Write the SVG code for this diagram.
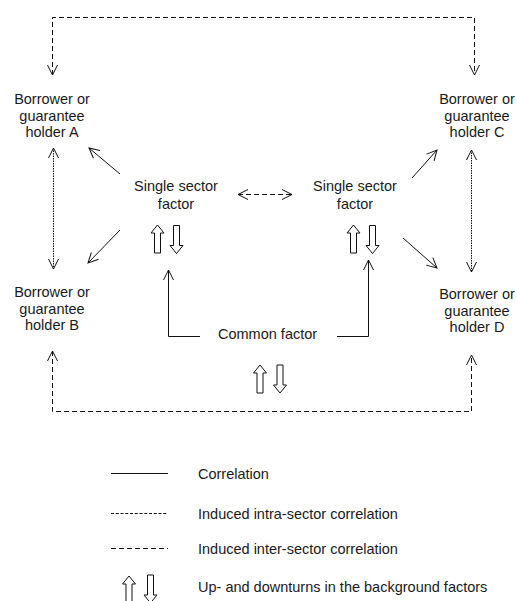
<svg xmlns="http://www.w3.org/2000/svg" width="517" height="601" viewBox="0 0 517 601">
  <style>
    text { font-family: "Liberation Sans", Arial, Helvetica, sans-serif; font-size: 14.5px; fill: #1a1a1a; }
    .mid { text-anchor: middle; }
    .ln { fill: none; stroke: #111; stroke-width: 1; }
    .solid { marker-end: url(#tip); }
    .inter { stroke-dasharray: 5 3; }
    .intra { stroke-dasharray: 1.5 1; }
    .both { marker-start: url(#tip); marker-end: url(#tip); }
    .hollow { fill: #fff; stroke: #111; stroke-width: 1; }
  </style>
  <defs>
    <!-- open V arrowhead -->
    <marker id="tip" markerUnits="userSpaceOnUse" markerWidth="12" markerHeight="12" viewBox="0 0 12 12" refX="11" refY="6" orient="auto-start-reverse">
      <path d="M1,1 L11,6 L1,11" fill="none" stroke="#111" stroke-width="1"/>
    </marker>
    <!-- hollow block arrows for up- and downturns -->
    <path id="up" d="M0,0 L6.5,8 L3,8 L3,28 L-3,28 L-3,8 L-6.5,8 Z"/>
    <path id="down" d="M-3,0 L3,0 L3,20 L6.5,20 L0,28 L-6.5,20 L-3,20 Z"/>
  </defs>

  <g id="connectors">
    <!-- inter-sector correlation -->
    <path class="ln inter both" d="M52.5,75 V17.5 H474.5 V75"/>
    <path class="ln inter both" d="M52.5,351 V411.5 H471.5 V355"/>
    <path class="ln inter both" d="M238,194.5 H292"/>
    <!-- intra-sector correlation -->
    <path class="ln intra both" d="M53.5,148 V269"/>
    <path class="ln intra both" d="M471.5,150 V272"/>
    <!-- sector factors to borrowers -->
    <path class="ln solid" d="M120,174 L89,148"/>
    <path class="ln solid" d="M120,230 L88,263"/>
    <path class="ln solid" d="M412,178 L437,150"/>
    <path class="ln solid" d="M403,238 L437,268"/>
    <!-- common factor to sector factors -->
    <path class="ln solid" d="M200,336.5 H168.5 V270"/>
    <path class="ln solid" d="M337,336.5 H368.5 V260"/>
  </g>

  <g id="borrower-a">
    <text class="mid" x="52" y="104">Borrower or</text>
    <text class="mid" x="52" y="120.5">guarantee</text>
    <text class="mid" x="52" y="137">holder A</text>
  </g>
  <g id="borrower-b">
    <text class="mid" x="52" y="297">Borrower or</text>
    <text class="mid" x="52" y="313.5">guarantee</text>
    <text class="mid" x="52" y="330">holder B</text>
  </g>
  <g id="borrower-c">
    <text class="mid" x="477" y="104">Borrower or</text>
    <text class="mid" x="477" y="120.5">guarantee</text>
    <text class="mid" x="477" y="137">holder C</text>
  </g>
  <g id="borrower-d">
    <text class="mid" x="477" y="299">Borrower or</text>
    <text class="mid" x="477" y="315.5">guarantee</text>
    <text class="mid" x="477" y="332">holder D</text>
  </g>

  <g id="sector-factor-left">
    <text class="mid" x="176" y="191">Single sector</text>
    <text class="mid" x="176" y="208.5">factor</text>
    <use href="#up" class="hollow" x="157.5" y="225"/>
    <use href="#down" class="hollow" x="176.5" y="225.5"/>
  </g>
  <g id="sector-factor-right">
    <text class="mid" x="355" y="191">Single sector</text>
    <text class="mid" x="355" y="208.5">factor</text>
    <use href="#up" class="hollow" x="353.5" y="225"/>
    <use href="#down" class="hollow" x="372.5" y="225.5"/>
  </g>
  <g id="common-factor">
    <text x="218" y="339">Common factor</text>
    <use href="#up" class="hollow" x="260" y="365"/>
    <use href="#down" class="hollow" x="280" y="365"/>
  </g>

  <g id="legend">
    <path class="ln" d="M111,473.5 H168"/>
    <text x="198" y="479">Correlation</text>
    <path class="ln" stroke-dasharray="3 1.75" d="M111,513.5 H168"/>
    <text x="198" y="519">Induced intra-sector correlation</text>
    <path class="ln inter" d="M111,548.5 H168"/>
    <text x="198" y="554">Induced inter-sector correlation</text>
    <use href="#up" class="hollow" x="129" y="576"/>
    <use href="#down" class="hollow" x="150.5" y="575"/>
    <text x="198" y="592">Up- and downturns in the background factors</text>
  </g>
</svg>
